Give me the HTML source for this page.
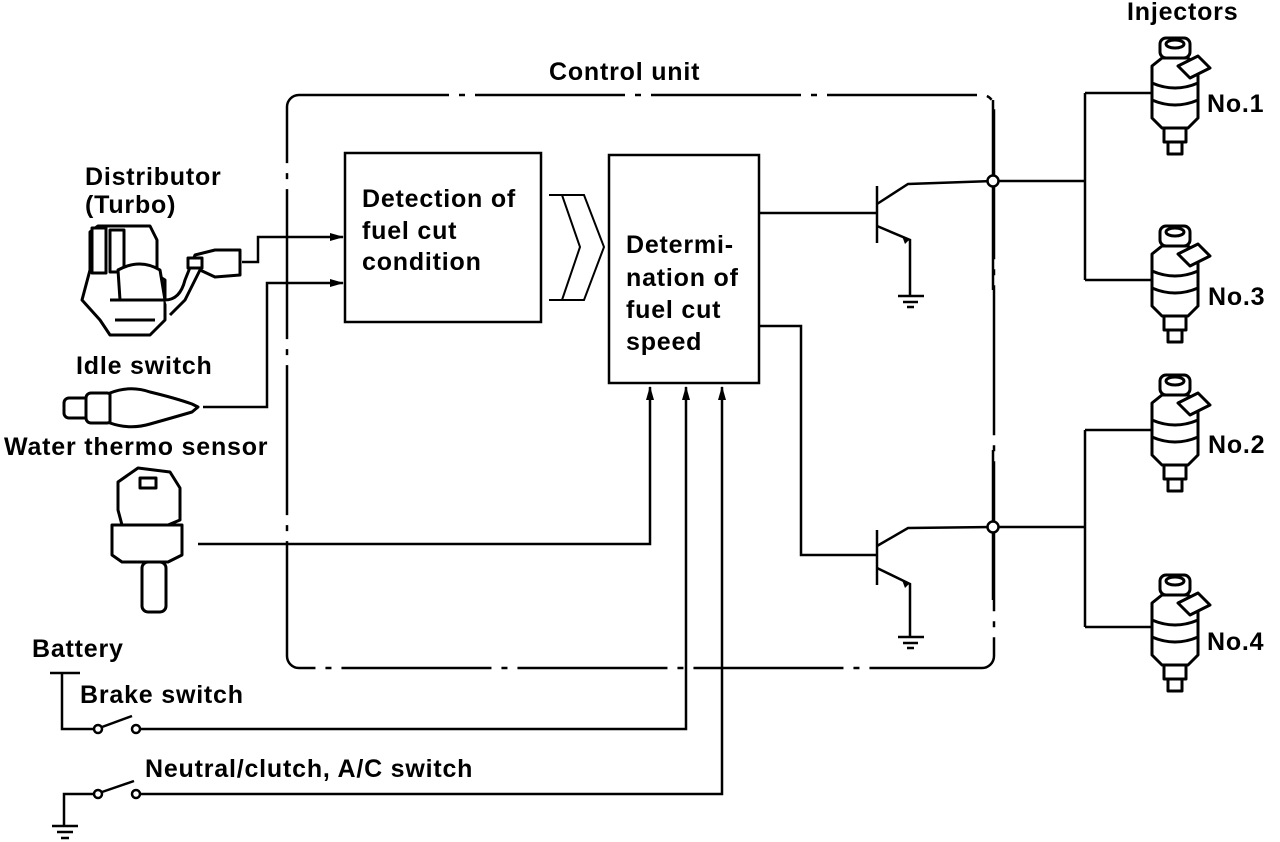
<!DOCTYPE html>
<html><head><meta charset="utf-8"><style>
html,body{margin:0;padding:0;background:#fff}
svg{display:block}
text{font-family:"Liberation Sans",sans-serif;font-size:25px;font-weight:bold;fill:#000;letter-spacing:0.8px}
</style></head><body>
<svg width="1280" height="842" viewBox="0 0 1280 842" xmlns="http://www.w3.org/2000/svg">
<defs>
<marker id="ar" markerWidth="14" markerHeight="10" refX="13" refY="5" orient="auto" markerUnits="userSpaceOnUse">
<path d="M0,1 L14,5 L0,9 Z" fill="#000"/></marker>
<g id="inj" fill="#fff" stroke="#000" stroke-width="3" stroke-linejoin="round">
<rect x="12" y="0" width="30" height="20" rx="6"/>
<ellipse cx="27" cy="6" rx="9" ry="4"/>
<path d="M4,28 L14,20 L40,20 L50,28 L50,80 L40,90 L14,90 L4,80 Z"/>
<path d="M4,45 Q27,55 50,45 M4,62 Q27,72 50,62"/>
<path d="M30,28 L50,18 L62,30 L42,40 Z"/>
<rect x="16" y="90" width="22" height="14"/>
<rect x="20" y="104" width="14" height="12"/>
</g>
</defs>

<rect x="287" y="95" width="707" height="573" rx="12" fill="none" stroke="#000" stroke-width="2.5" stroke-dasharray="150,10,6,10"/>
<text x="549" y="80">Control unit</text>

<rect x="345" y="153" width="196" height="169" fill="none" stroke="#000" stroke-width="2.5"/>
<text x="362" y="207">Detection of</text>
<text x="362" y="239">fuel cut</text>
<text x="362" y="270">condition</text>

<path d="M549,195 L584,195 L604,247 L584,300 L549,300 M549,195 L562,195 L580,247 L562,300" fill="none" stroke="#000" stroke-width="2"/>

<rect x="609" y="155" width="150" height="228" fill="none" stroke="#000" stroke-width="2.5"/>
<text x="626" y="253">Determi-</text>
<text x="626" y="286">nation of</text>
<text x="626" y="318">fuel cut</text>
<text x="626" y="350">speed</text>

<g fill="none" stroke="#000" stroke-width="2.5">
<path d="M759,213 L876,213"/>
<path d="M877,186 L877,243"/>
<path d="M877,204 L908,184 L993,181"/>
<path d="M877,226 L910,240 L910,295"/>
<path d="M898,296 L924,296 M903,302 L918,302 M907,307 L914,307"/>
<path d="M759,326 L801,326 L801,555 L876,555"/>
<path d="M877,530 L877,585"/>
<path d="M877,546 L908,528 L993,527"/>
<path d="M877,568 L910,584 L910,636"/>
<path d="M898,637 L924,637 M903,643 L918,643 M907,648 L914,648"/>
<path d="M993,181 L1085,181 M1085,93 L1085,280 M1085,93 L1152,93 M1085,280 L1152,280"/>
<path d="M993,527 L1085,527 M1085,430 L1085,627 M1085,430 L1152,430 M1085,627 L1152,627"/>
<path d="M993,100 L993,290 M993,450 L993,600"/>
</g>
<circle cx="993" cy="181" r="5.5" fill="#fff" stroke="#000" stroke-width="2.5"/>
<circle cx="993" cy="527" r="5.5" fill="#fff" stroke="#000" stroke-width="2.5"/>
<path d="M909,240 L902,236 L905,244 Z M909,584 L902,580 L905,588 Z" fill="#000"/>

<g fill="none" stroke="#000" stroke-width="2.5">
<path d="M242,262 L258,262 L258,237 L343,237" marker-end="url(#ar)"/>
<path d="M203,407 L267,407 L267,283 L343,283" marker-end="url(#ar)"/>
<path d="M198,544 L650,544 L650,387" marker-end="url(#ar)"/>
<path d="M140,729 L686,729 L686,387" marker-end="url(#ar)"/>
<path d="M140,794 L722,794 L722,387" marker-end="url(#ar)"/>
<path d="M50,673 L80,673 M62,673 L62,729 L94,729"/>
<path d="M102,727 L132,716"/>
<path d="M94,794 L64,794 L64,825"/>
<path d="M102,792 L134,781"/>
<path d="M52,826 L78,826 M57,832 L73,832 M61,838 L69,838"/>
</g>
<g fill="#fff" stroke="#000" stroke-width="2.5">
<circle cx="98" cy="729" r="4"/><circle cx="136" cy="729" r="4"/>
<circle cx="98" cy="794" r="4"/><circle cx="136" cy="794" r="4"/>
</g>

<text x="85" y="185">Distributor</text>
<text x="85" y="213">(Turbo)</text>
<text x="76" y="374">Idle switch</text>
<text x="4" y="455">Water thermo sensor</text>
<text x="32" y="657">Battery</text>
<text x="80" y="703">Brake switch</text>
<text x="145" y="777">Neutral/clutch, A/C switch</text>
<text x="1127" y="20">Injectors</text>
<text x="1207" y="112">No.1</text>
<text x="1208" y="305">No.3</text>
<text x="1208" y="453">No.2</text>
<text x="1207" y="650">No.4</text>

<g fill="#fff" stroke="#000" stroke-width="3" stroke-linejoin="round">
<path d="M90,232 L98,226 L150,226 L157,240 L157,275 L165,280 L165,320 L150,335 L110,335 L100,320 L82,300 L90,270 Z"/>
<rect x="92" y="228" width="14" height="45"/>
<rect x="110" y="230" width="14" height="42"/>
<path d="M118,270 Q140,258 160,270 L165,300 L120,300 Z"/>
<path d="M110,300 L165,300 M115,320 L155,320"/>
<path d="M165,300 Q180,300 185,280 L195,255 L215,250 L240,250 L240,275 L215,277 L200,270 L185,300 L170,315"/>
<rect x="188" y="258" width="14" height="10"/>
</g>
<g fill="#fff" stroke="#000" stroke-width="3" stroke-linejoin="round">
<rect x="64" y="398" width="30" height="20" rx="5"/>
<rect x="86" y="393" width="26" height="30" rx="5"/>
<path d="M110,393 Q130,385 150,392 Q175,398 192,404 L198,407 L192,412 Q175,417 150,424 Q130,430 110,423 Z"/>
</g>
<g fill="#fff" stroke="#000" stroke-width="3" stroke-linejoin="round">
<path d="M118,482 L138,468 L170,472 L180,488 L180,520 L168,525 L122,525 L118,510 Z"/>
<path d="M112,525 L182,525 L182,555 L168,562 L122,562 L112,555 Z"/>
<rect x="142" y="562" width="24" height="50" rx="6"/>
<rect x="140" y="478" width="16" height="10"/>
</g>
<use href="#inj" x="1148" y="38"/>
<use href="#inj" x="1148" y="226"/>
<use href="#inj" x="1148" y="375"/>
<use href="#inj" x="1148" y="575"/>
</svg>
</body></html>
